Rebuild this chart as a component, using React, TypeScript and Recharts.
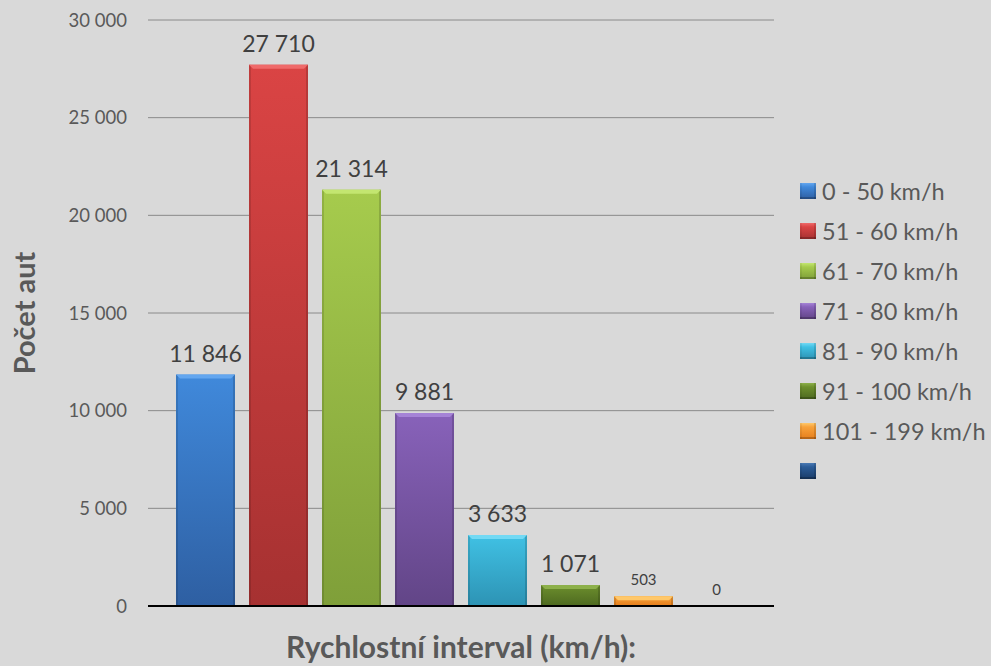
import React from 'react';
import { BarChart, Bar, XAxis, YAxis, CartesianGrid, LabelList, Label } from 'recharts';

// ---- data ----
const categories = ['Rychlost'];
const seriesNames = ['0 - 50 km/h', '51 - 60 km/h', '61 - 70 km/h', '71 - 80 km/h', '81 - 90 km/h', '91 - 100 km/h', '101 - 199 km/h', ''];
const seriesValues = [11846, 27710, 21314, 9881, 3633, 1071, 503, 0];
const yTicks = [0, 5000, 10000, 15000, 20000, 25000, 30000];
const yTitle = 'Počet aut';
const xTitle = 'Rychlostní interval (km/h):';

// ---- styles ----
const colTop = ['#4089db', '#da4444', '#a6cb4d', '#8862ba', '#40c1e4', '#6d8f2d', '#f8a23a', '#2b5c98'];
const colBot = ['#2e5fa2', '#a63131', '#7f9f39', '#624587', '#2d93b4', '#4d6920', '#e57e1c', '#1a3c68'];
const colHi = ['#63a6ef', '#ef6a6a', '#c3e670', '#a583d6', '#72d9f4', '#8db04a', '#ffc86a', '#4a7ab4'];
const labelSize = [23, 23, 23, 23, 23, 23, 15, 15];
const FONT = 'Lato, "Open Sans", sans-serif';

const fmt = (v: number) => String(v).replace(/\B(?=(\d{3})+(?!\d))/g, ' ');

const data = categories.map((c) => {
  const row: Record<string, any> = { name: c };
  seriesValues.forEach((v, i) => { row['s' + i] = v; });
  return row;
});

const BevelBar = (props: any) => {
  const { x, y, width, height, si } = props;
  if (!height || height <= 0) return <g />;
  const b = Math.min(4, height / 2);
  return (
    <g>
      <rect x={x} y={y} width={width} height={height} fill={`url(#grad${si})`} />
      <rect x={x} y={y} width={2} height={height} fill="rgba(0,0,0,0.12)" />
      <rect x={x + width - 2} y={y} width={2} height={height} fill="rgba(0,0,0,0.15)" />
      <polygon points={`${x},${y} ${x + width},${y} ${x + width - b},${y + b} ${x + b},${y + b}`} fill={colHi[si]} />
    </g>
  );
};

const makeLabel = (si: number) => (p: any) => {
  const { x, y, width, value } = p;
  const fs = labelSize[si];
  const off = 7 + fs * 0.25;
  return (
    <text x={x + width / 2} y={y - off} textAnchor="middle" fontSize={fs} fontFamily={FONT} fill="#404040">
      {fmt(Number(value))}
    </text>
  );
};

const LegendBox = () => (
  <div style={{ position: 'absolute', left: 800, top: 171, fontFamily: FONT }}>
    {seriesNames.map((n, i) => (
      <div key={i} style={{ height: 40, display: 'flex', alignItems: 'center' }}>
        <div
          style={{
            width: 16,
            height: 16,
            boxSizing: 'border-box',
            background: `linear-gradient(to bottom, ${colHi[i]} 0%, ${colTop[i]} 25%, ${colBot[i]} 100%)`,
            boxShadow: 'inset 0 -2px 0 rgba(0,0,0,0.2), inset 2px 0 0 rgba(0,0,0,0.06), inset -2px 0 0 rgba(0,0,0,0.12)',
          }}
        />
        <span style={{ marginLeft: 6, fontSize: 23.5, color: '#595959', whiteSpace: 'nowrap', lineHeight: '40px' }}>{n}</span>
      </div>
    ))}
  </div>
);

export default function App() {
  return (
    <div style={{ position: 'absolute', left: 0, top: 0, width: 991, height: 666, background: '#d9d9d9', overflow: 'hidden' }}>
      <BarChart
        width={991}
        height={666}
        data={data}
        margin={{ top: 20, right: 217, bottom: 0, left: 0 }}
        barGap={14}
        barCategoryGap={28}
      >
        <defs>
          {colTop.map((c, i) => (
            <linearGradient key={i} id={`grad${i}`} x1="0" y1="0" x2="0" y2="1">
              <stop offset="0%" stopColor={c} />
              <stop offset="100%" stopColor={colBot[i]} />
            </linearGradient>
          ))}
        </defs>
        <CartesianGrid horizontal vertical={false} stroke="#8a8a8a" strokeWidth={1} />
        <XAxis
          dataKey="name"
          height={60}
          tick={false}
          tickLine={false}
          axisLine={{ stroke: '#000', strokeWidth: 2 }}
        >
          <Label
            content={(p: any) => {
              const vb = p.viewBox;
              return (
                <text x={vb.x + vb.width / 2} y={vb.y + 52} textAnchor="middle" fontSize={30} fontWeight="bold" fontFamily={FONT} fill="#595959">
                  {xTitle}
                </text>
              );
            }}
          />
        </XAxis>
        <YAxis
          width={148}
          domain={[0, 30000]}
          ticks={yTicks}
          interval={0}
          axisLine={false}
          tickLine={false}
          tickSize={6}
          tickMargin={15}
          tickFormatter={fmt}
          tick={{ fill: '#595959', fontSize: 18.5, fontFamily: FONT }}
        >
          <Label
            content={(p: any) => {
              const vb = p.viewBox;
              const cy = vb.y + vb.height / 2;
              return (
                <text x={23} y={cy} transform={`rotate(-90 23 ${cy})`} textAnchor="middle" dominantBaseline="central" fontSize={29} fontWeight="bold" fontFamily={FONT} fill="#595959">
                  {yTitle}
                </text>
              );
            }}
          />
        </YAxis>
        {seriesValues.map((_, i) => (
          <Bar
            key={i}
            dataKey={'s' + i}
            name={seriesNames[i] || ' '}
            barSize={59}
            fill={colTop[i]}
            isAnimationActive={false}
            shape={(p: any) => <BevelBar {...p} si={i} />}
          >
            <LabelList dataKey={'s' + i} content={makeLabel(i)} />
          </Bar>
        ))}
      </BarChart>
      <LegendBox />
    </div>
  );
}
